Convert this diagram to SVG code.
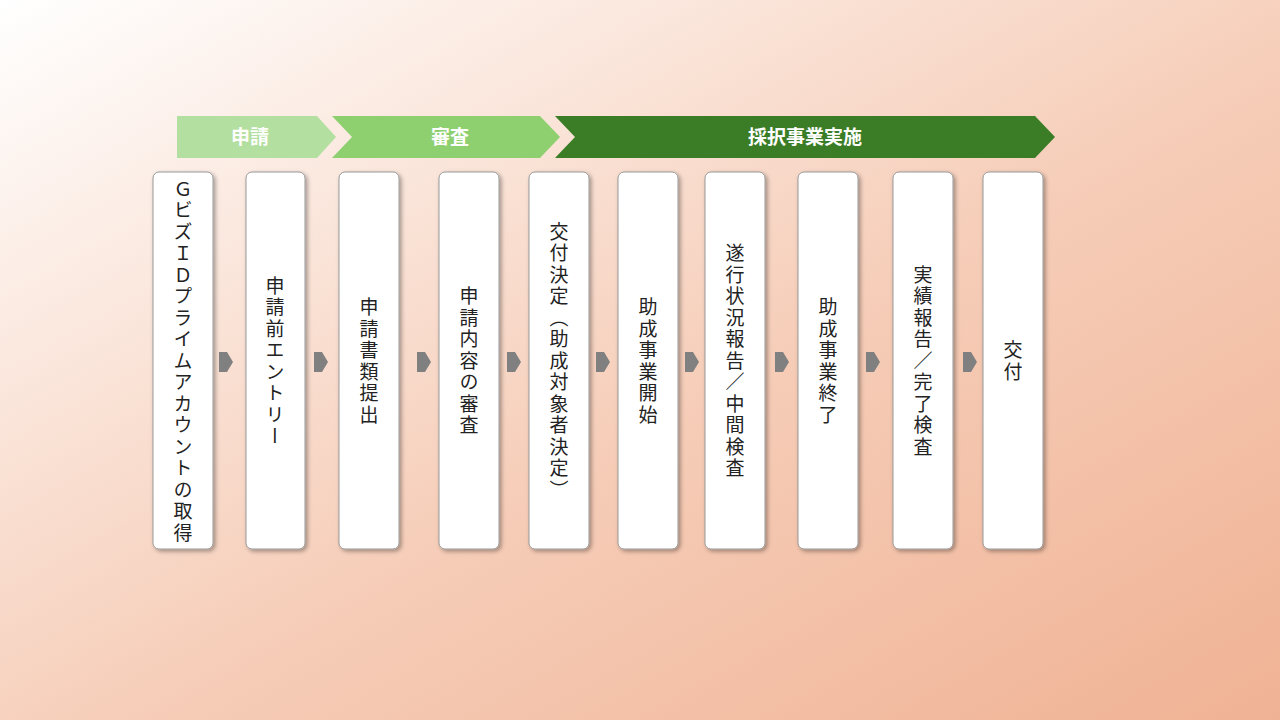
<svg xmlns="http://www.w3.org/2000/svg" width="1280" height="720" viewBox="0 0 1280 720">
<defs>
<linearGradient id="bg" x1="0" y1="0" x2="1" y2="1" gradientUnits="objectBoundingBox">
<stop offset="0" stop-color="#ffffff"/><stop offset="0.55" stop-color="#f6cdb8"/><stop offset="1" stop-color="#f0b294"/>
</linearGradient>
<filter id="sh" x="-20%" y="-5%" width="150%" height="115%"><feDropShadow dx="2" dy="2" stdDeviation="2" flood-color="#000" flood-opacity="0.35"/></filter>
<style>
.box{fill:#fff;stroke:#999;stroke-width:1;filter:url(#sh)}
.t{font-family:"Noto Sans CJK JP",sans-serif;font-size:19px;letter-spacing:2.5px;fill:#222;writing-mode:vertical-rl;text-anchor:middle}
.h{font-family:"Noto Sans CJK JP",sans-serif;font-size:19px;font-weight:bold;fill:#fff;text-anchor:middle}
.ar{fill:#808080}
</style>
</defs>
<rect width="1280" height="720" fill="url(#bg)"/>
<g id="phases">
<polygon points="177,116 317,116 336,137 317,158 177,158" fill="#b3e0a0"/>
<text class="h" x="250" y="144">申請</text>
<polygon points="332,116 540,116 560,137 540,158 332,158 352,137" fill="#8ed070"/>
<text class="h" x="450" y="144">審査</text>
<polygon points="555,116 1035,116 1055,137 1035,158 555,158 575,137" fill="#3a7d26"/>
<text class="h" x="805" y="144">採択事業実施</text>
</g>
<g id="n1"><rect class="box" x="153" y="172" width="60" height="377" rx="6"/><text class="t" x="183" y="362">ＧビズＩＤプライムアカウントの取得</text></g>
<g id="n2"><rect class="box" x="246" y="172" width="59" height="377" rx="6"/><text class="t" x="275" y="362">申請前エントリー</text></g>
<g id="n3"><rect class="box" x="339" y="172" width="60" height="377" rx="6"/><text class="t" x="369" y="362">申請書類提出</text></g>
<g id="n4"><rect class="box" x="439" y="172" width="60" height="377" rx="6"/><text class="t" x="469" y="362">申請内容の審査</text></g>
<g id="n5"><rect class="box" x="529" y="172" width="60" height="377" rx="6"/><text class="t" x="559" y="362">交付決定（助成対象者決定）</text></g>
<g id="n6"><rect class="box" x="618" y="172" width="60" height="377" rx="6"/><text class="t" x="648" y="362">助成事業開始</text></g>
<g id="n7"><rect class="box" x="705" y="172" width="60" height="377" rx="6"/><text class="t" x="735" y="362">遂行状況報告／中間検査</text></g>
<g id="n8"><rect class="box" x="798" y="172" width="60" height="377" rx="6"/><text class="t" x="828" y="362">助成事業終了</text></g>
<g id="n9"><rect class="box" x="893" y="172" width="60" height="377" rx="6"/><text class="t" x="923" y="362">実績報告／完了検査</text></g>
<g id="n10"><rect class="box" x="983" y="172" width="60" height="377" rx="6"/><text class="t" x="1013" y="362">交付</text></g>
<g id="connectors">
<polygon class="ar" points="219,352 227,352 233,362 227,372 219,372"/>
<polygon class="ar" points="314,352 322,352 328,362 322,372 314,372"/>
<polygon class="ar" points="417,352 425,352 431,362 425,372 417,372"/>
<polygon class="ar" points="507,352 515,352 521,362 515,372 507,372"/>
<polygon class="ar" points="596,352 604,352 610,362 604,372 596,372"/>
<polygon class="ar" points="685,352 693,352 699,362 693,372 685,372"/>
<polygon class="ar" points="775,352 783,352 789,362 783,372 775,372"/>
<polygon class="ar" points="866,352 874,352 880,362 874,372 866,372"/>
<polygon class="ar" points="963,352 971,352 977,362 971,372 963,372"/>
</g>
</svg>
